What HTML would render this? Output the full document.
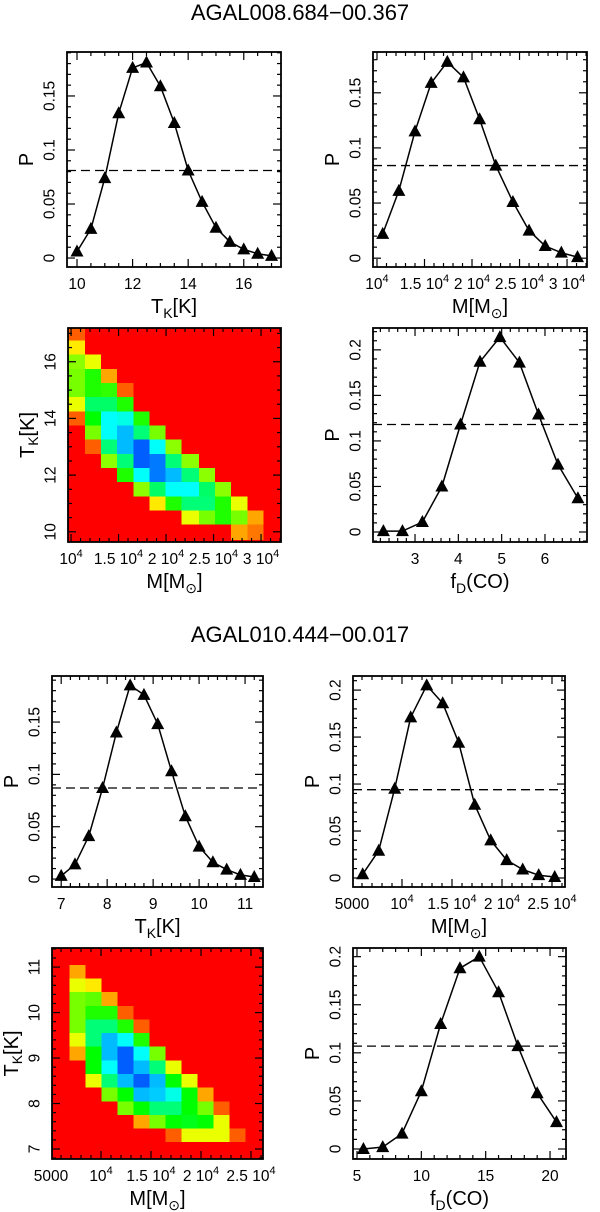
<!DOCTYPE html>
<html><head><meta charset="utf-8"><style>
html,body{margin:0;padding:0;background:#fff}
svg{display:block}
text{font-family:"Liberation Sans",sans-serif;fill:#000}
</style></head><body>
<svg id="fig" xmlns="http://www.w3.org/2000/svg" width="600" height="1212" viewBox="0 0 600 1212">
<rect width="600" height="1212" fill="#fff"/>
<text x="300" y="20" text-anchor="middle" font-size="22">AGAL008.684−00.367</text>
<text x="300" y="642" text-anchor="middle" font-size="22">AGAL010.444−00.017</text>
</svg>
<script>
// ---- data ----
const tkA=[10,10.5,11,11.5,12,12.5,13,13.5,14,14.5,15,15.5,16,16.5,17];
const pA=[0.006,0.027,0.074,0.134,0.176,0.181,0.159,0.125,0.081,0.052,0.028,0.015,0.008,0.004,0.002];
const cutA=0.081;
const massB=[1.06,1.23,1.40,1.57,1.74,1.91,2.08,2.25,2.43,2.60,2.77,2.94,3.11];
const pB=[0.022,0.061,0.115,0.159,0.178,0.164,0.126,0.084,0.051,0.025,0.011,0.005,0.001];
const cutB=0.084;
const fdD=[2.27,2.71,3.17,3.62,4.05,4.50,4.96,5.41,5.85,6.30,6.76];
const pD=[0.001,0.001,0.011,0.050,0.118,0.187,0.214,0.186,0.129,0.074,0.037];
const cutD=0.118;
const tkE=[7,7.3,7.6,7.9,8.2,8.5,8.8,9.1,9.4,9.7,10,10.3,10.6,10.9,11.2];
const pE=[0.003,0.014,0.041,0.087,0.140,0.185,0.176,0.148,0.103,0.060,0.031,0.016,0.009,0.004,0.002];
const cutE=0.087;
const massF=[0.607,0.767,0.927,1.087,1.247,1.407,1.567,1.727,1.887,2.047,2.207,2.367,2.527];
const pF=[0.004,0.029,0.095,0.171,0.205,0.186,0.144,0.078,0.040,0.019,0.009,0.003,0.001];
const cutF=0.094;
const fdH=[5.5,7,8.5,10,11.5,13,14.5,16,17.5,19,20.5];
const pH=[0.000,0.002,0.016,0.060,0.130,0.188,0.200,0.163,0.107,0.058,0.028];
const cutH=0.107;
// heatmap rows top (high T) to bottom, 13 mass columns each; values 0 (red) .. 1 (blue)
const heatRowsC=[17,16.5,16,15.5,15,14.5,14,13.5,13,12.5,12,11.5,11,10.5,10];
const heatC=[
[.1,0,0,0,0,0,0,0,0,0,0,0,0],
[.25,0,0,0,0,0,0,0,0,0,0,0,0],
[.4,.3,0,0,0,0,0,0,0,0,0,0,0],
[.42,.52,.18,0,0,0,0,0,0,0,0,0,0],
[.42,.52,.5,.1,0,0,0,0,0,0,0,0,0],
[.3,.66,.66,.52,0,0,0,0,0,0,0,0,0],
[.1,.55,.82,.8,.52,0,0,0,0,0,0,0,0],
[0,.42,.82,.9,.68,.42,0,0,0,0,0,0,0],
[0,.1,.68,.9,1,.82,.4,0,0,0,0,0,0],
[0,0,.4,.68,1,.97,.68,.4,0,0,0,0,0],
[0,0,0,.52,.82,.97,.9,.68,.4,0,0,0,0],
[0,0,0,0,.4,.66,.82,.82,.66,.4,0,0,0],
[0,0,0,0,0,.25,.52,.68,.68,.52,.3,0,0],
[0,0,0,0,0,0,0,.3,.42,.52,.42,.18,0],
[0,0,0,0,0,0,0,0,0,0,.18,.13,0]];
const heatRowsG=[11.2,10.9,10.6,10.3,10,9.7,9.4,9.1,8.8,8.5,8.2,7.9,7.6,7.3,7];
const heatG=[
[0,0,0,0,0,0,0,0,0,0,0,0,0],
[0,.18,0,0,0,0,0,0,0,0,0,0,0],
[0,.3,.25,0,0,0,0,0,0,0,0,0,0],
[0,.42,.45,.18,0,0,0,0,0,0,0,0,0],
[0,.42,.52,.52,.1,0,0,0,0,0,0,0,0],
[0,.42,.68,.68,.52,.1,0,0,0,0,0,0,0],
[0,.3,.68,.9,.82,.52,0,0,0,0,0,0,0],
[0,.18,.55,.9,1,.82,.42,0,0,0,0,0,0],
[0,0,.55,.82,1,.9,.68,.3,0,0,0,0,0],
[0,0,.3,.68,.9,1,.9,.55,.3,0,0,0,0],
[0,0,0,.42,.55,.9,.88,.8,.55,.18,0,0,0],
[0,0,0,0,.42,.55,.68,.68,.55,.42,.1,0,0],
[0,0,0,0,0,.18,.42,.55,.58,.55,.3,0,0],
[0,0,0,0,0,0,0,.1,.3,.3,.3,.1,0],
[0,0,0,0,0,0,0,0,0,0,0,0,0]];
// tick definitions
const ticksP15=[0,0.05,0.1,0.15];
const ticksP20=[0,0.05,0.1,0.15,0.2];
const ticksTkA=[10,12,14,16];
const ticksTkE=[7,8,9,10,11];
const ticksMassB=[1,1.5,2,2.5,3];
const labelsMassB=['10^4','1.5 10^4','2 10^4','2.5 10^4','3 10^4'];
const ticksMassF=[0.5,1,1.5,2,2.5];
const labelsMassF=['5000','10^4','1.5 10^4','2 10^4','2.5 10^4'];
const ticksFdD=[3,4,5,6];
const ticksFdH=[5,10,15,20];

const NS='http://www.w3.org/2000/svg';
const svg=document.getElementById('fig');
function mk(tag,attrs,parent){const e=document.createElementNS(NS,tag);for(const k in attrs)e.setAttribute(k,attrs[k]);(parent||svg).appendChild(e);return e;}
function fmt(v){return String(Math.round(v*1000)/1000);}
function richLabel(s){
  return s.replace(/\^(\d)/g,'<tspan dy="-7" font-size="11">$1</tspan><tspan dy="7"></tspan>');
}
function makeAxes(b,xd,yd){
  return {sx:v=>b.x0+(v-xd[0])/(xd[1]-xd[0])*(b.x1-b.x0), sy:v=>b.y1-(v-yd[0])/(yd[1]-yd[0])*(b.y1-b.y0)};
}
function drawFrame(g,b,ax,xd,yd,xt,xl,xminor,yt,yl,yminor,xtitle,ytitle){
  const tk=mk('g',{stroke:'#000','stroke-width':1.2},g);
  
  
  for(let v=Math.ceil(xd[0]/xminor)*xminor;v<=xd[1];v+=xminor){
    const x=ax.sx(v);const major=xt.some(t=>Math.abs(t-v)<1e-6);const L=major?8:4;
    mk('line',{x1:x,x2:x,y1:b.y1,y2:b.y1-L},tk);mk('line',{x1:x,x2:x,y1:b.y0,y2:b.y0+L},tk);
  }
  for(let v=Math.ceil(yd[0]/yminor)*yminor;v<=yd[1];v+=yminor){
    const y=ax.sy(v);const major=yt.some(t=>Math.abs(t-v)<1e-6);const L=major?8:4;
    mk('line',{x1:b.x0,x2:b.x0+L,y1:y,y2:y},tk);mk('line',{x1:b.x1,x2:b.x1-L,y1:y,y2:y},tk);
  }
  const fr=mk('rect',{x:b.x0,y:b.y0,width:b.x1-b.x0,height:b.y1-b.y0,fill:'none',stroke:'#000','stroke-width':1.8},g);
  
  
  xt.forEach((v,i)=>{
    const t=mk('text',{x:ax.sx(v),y:b.y1+22,'text-anchor':'middle','font-size':15.5},g);
    t.innerHTML=richLabel(xl[i]);
    
    
  });
  yt.forEach((v,i)=>{
    const t=mk('text',{transform:`translate(${b.x0-17},${ax.sy(v)}) rotate(-90)`,'text-anchor':'middle','dominant-baseline':'central','font-size':15.5},g);
    t.textContent=yl[i];
    
    
  });
  const xtt=mk('text',{x:(b.x0+b.x1)/2,y:b.y1+46,'text-anchor':'middle','font-size':20},g);
  xtt.innerHTML=xtitle;
  
  
  const ytt=mk('text',{transform:`translate(${b.x0-40},${(b.y0+b.y1)/2}) rotate(-90)`,'text-anchor':'middle','dominant-baseline':'central','font-size':20},g);
  ytt.innerHTML=ytitle;
  
  
}
function linePanel(name,b,xd,yd,xs,ys,cut,xt,xl,xminor,yt,yminor,xtitle){
  const g=mk('g',{});
  
  
  const ax=makeAxes(b,xd,yd);
  const dl=mk('line',{x1:b.x0,x2:b.x1,y1:ax.sy(cut),y2:ax.sy(cut),stroke:'#000','stroke-width':1.3,'stroke-dasharray':'9 5'},g);
  
  
  const pts=xs.map((x,i)=>ax.sx(x).toFixed(1)+','+ax.sy(ys[i]).toFixed(1)).join(' ');
  const pl=mk('polyline',{points:pts,fill:'none',stroke:'#000','stroke-width':1.5,'stroke-linejoin':'round'},g);
  
  
  xs.forEach((x,i)=>{
    const cx=ax.sx(x),cy=ax.sy(ys[i]);
    const m=mk('polygon',{points:`${cx-6.5},${cy+5} ${cx+6.5},${cy+5} ${cx},${cy-7}`,fill:'#000'},g);
    
    
  });
  drawFrame(g,b,ax,xd,yd,xt,xl,xminor,yt,yt.map(fmt),yminor,xtitle,'P');
}
function heatPanel(name,b,xd,yd,masses,rows,grid,xt,xl,xminor,yt,yminor){
  const g=mk('g',{});
  
  
  const ax=makeAxes(b,xd,yd);
  const clip=mk('clipPath',{id:name+'-clip'},g);
  mk('rect',{x:b.x0,y:b.y0,width:b.x1-b.x0,height:b.y1-b.y0},clip);
  const cg=mk('g',{'clip-path':`url(#${name}-clip)`,'shape-rendering':'crispEdges'},g);
  mk('rect',{x:b.x0,y:b.y0,width:b.x1-b.x0,height:b.y1-b.y0,fill:'hsl(0,100%,50%)'},cg);
  const dm=masses[1]-masses[0], dt=Math.abs(rows[0]-rows[1]);
  rows.forEach((t,r)=>{
    masses.forEach((m,c)=>{
      const v=grid[r][c];
      const x0=ax.sx(m-dm/2),x1=ax.sx(m+dm/2),y0=ax.sy(t+dt/2),y1=ax.sy(t-dt/2);
      const cell=mk('rect',{x:x0.toFixed(2),y:y0.toFixed(2),width:(x1-x0+1).toFixed(2),height:(y1-y0+1).toFixed(2),fill:`hsl(${Math.round(v*218)},100%,50%)`},cg);
      
      
    });
  });
  drawFrame(g,b,ax,xd,yd,xt,xl,xminor,yt,yt.map(fmt),yminor,'M[M<tspan dy="5" font-size="14">⊙</tspan><tspan dy="-5">]</tspan>','T<tspan dy="5" font-size="14">K</tspan><tspan dy="-5">[K]</tspan>');
}
const TK='T<tspan dy="5" font-size="14">K</tspan><tspan dy="-5">[K]</tspan>';
const MS='M[M<tspan dy="5" font-size="14">⊙</tspan><tspan dy="-5">]</tspan>';
const FD='f<tspan dy="5" font-size="14">D</tspan><tspan dy="-5">(CO)</tspan>';

linePanel('panel-tk-agal008',{x0:67,x1:281,y0:52,y1:267},[9.64,17.34],[-0.0083,0.1907],tkA,pA,cutA,ticksTkA,ticksTkA.map(String),0.5,ticksP15,0.01,TK);
linePanel('panel-mass-agal008',{x0:373,x1:587,y0:52,y1:267},[0.958,3.21],[-0.008,0.187],massB,pB,cutB,ticksMassB,labelsMassB,0.1,ticksP15,0.01,MS);
heatPanel('heatmap-agal008',{x0:68,x1:281,y0:328,y1:542},[0.968,3.21],[9.64,17.19],massB,heatRowsC,heatC,ticksMassB,labelsMassB,0.1,ticksTkA,0.5);
linePanel('panel-fco-agal008',{x0:373,x1:587,y0:328,y1:542},[2.03,6.97],[-0.011,0.224],fdD,pD,cutD,ticksFdD,ticksFdD.map(String),0.2,ticksP20,0.01,FD);
linePanel('panel-tk-agal010',{x0:52,x1:263,y0:676,y1:887},[6.80,11.39],[-0.0076,0.194],tkE,pE,cutE,ticksTkE,ticksTkE.map(String),0.2,ticksP15,0.01,TK);
linePanel('panel-mass-agal010',{x0:353,x1:565,y0:676,y1:887},[0.51,2.63],[-0.0096,0.215],massF,pF,cutF,ticksMassF,labelsMassF,0.1,ticksP20,0.01,MS);
heatPanel('heatmap-agal010',{x0:52,x1:263,y0:948,y1:1159},[0.51,2.62],[6.78,11.42],massF,heatRowsG,heatG,ticksMassF,labelsMassF,0.1,ticksTkE,0.2);
linePanel('panel-fco-agal010',{x0:353,x1:566,y0:948,y1:1159},[4.69,21.24],[-0.0104,0.209],fdH,pH,cutH,ticksFdH,ticksFdH.map(String),1,ticksP20,0.01,FD);
</script>
</body></html>
